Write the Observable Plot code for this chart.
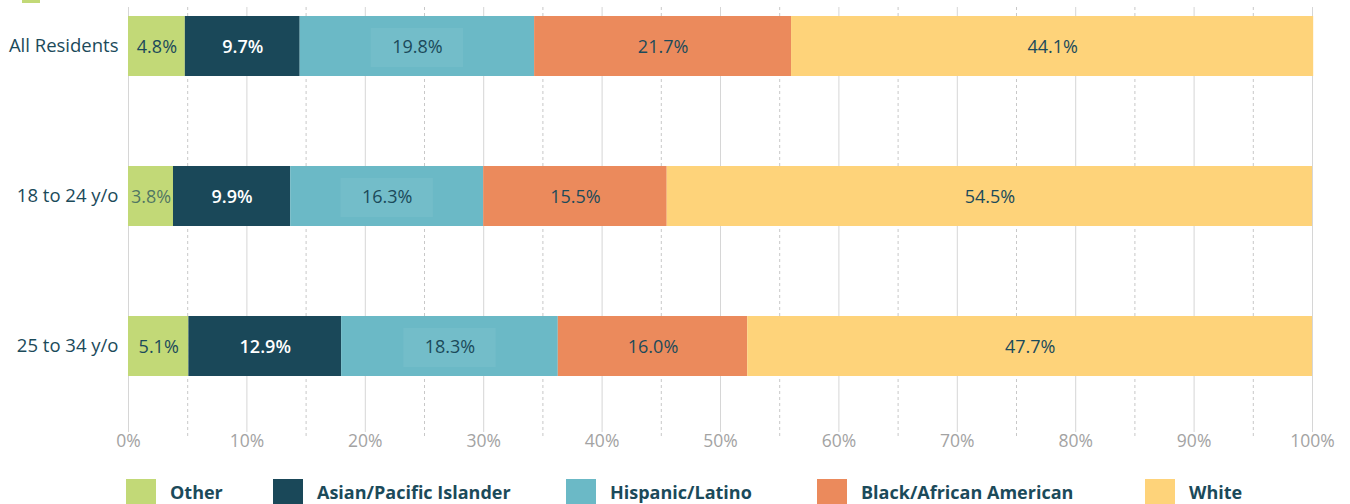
<!DOCTYPE html>
<html>
<head>
<meta charset="utf-8">
<script src="https://cdn.jsdelivr.net/npm/d3@7"></script>
<script src="https://cdn.jsdelivr.net/npm/@observablehq/plot@0.6"></script>
<style>
  html, body { margin: 0; padding: 0; background: #fff; }
  body { width: 1350px; height: 504px; overflow: hidden; position: relative; font-family: "Open Sans", sans-serif; }
  #chart svg { display: block; }
  #legend { position: relative; height: 44px; }
  .item { position: absolute; top: 19px; display: flex; align-items: center; }
  .sw { width: 30px; height: 30px; margin-right: 14px; }
  .lab { font-size: 18px; font-weight: 700; color: #1b4a5a; line-height: 30px; position: relative; top: -2px; }
  #topbit { position: absolute; left: 22px; top: 0; width: 18px; height: 3px; background: #c2d977; }
</style>
</head>
<body>
<div id="topbit"></div>
<div id="chart"></div>
<div id="legend"></div>
<script>
const groups = ["All Residents", "18 to 24 y/o", "25 to 34 y/o"];
const races = ["Other", "Asian/Pacific Islander", "Hispanic/Latino", "Black/African American", "White"];
const colors = ["#c2d977", "#1a4859", "#6bb9c6", "#eb8a5c", "#fed37a"];
const other    = [4.8, 3.8, 5.1];
const asian    = [9.7, 9.9, 12.9];
const hispanic = [19.8, 16.3, 18.3];
const black    = [21.7, 15.5, 16.0];
const white    = [44.1, 54.5, 47.7];
const xTicks = [0, 10, 20, 30, 40, 50, 60, 70, 80, 90, 100];
const xMinor = [5, 15, 25, 35, 45, 55, 65, 75, 85, 95];

const series = [other, asian, hispanic, black, white];
const data = [];
groups.forEach((g, gi) => {
  let cum = 0;
  races.forEach((r, ri) => {
    const v = series[ri][gi];
    data.push({group: g, race: r, value: v, mid: cum + v / 2});
    cum += v;
  });
});

const isAsian = d => d.race === "Asian/Pacific Islander";
const fmt = d => d.value.toFixed(1) + "%";

const chart = Plot.plot({
  width: 1350,
  height: 460,
  marginLeft: 128,
  marginRight: 38,
  marginTop: 7,
  marginBottom: 28,
  style: {fontFamily: "'Open Sans', sans-serif", background: "#fff"},
  x: {domain: [0, 100], axis: null},
  y: {domain: groups, range: [15, 377], paddingInner: 0.6, paddingOuter: 0, axis: null},
  color: {domain: races, range: colors},
  marks: [
    Plot.gridX(xTicks, {stroke: "#d6d6d6", strokeOpacity: 1}),
    Plot.gridX(xMinor, {stroke: "#c8c8c8", strokeOpacity: 1, strokeDasharray: "3,3", insetBottom: -6}),
    Plot.barX(data, Plot.stackX({x: "value", y: "group", fill: "race"})),
    Plot.barX(data.filter(d => d.race === "Hispanic/Latino"), {
      x1: d => d.mid - 3.9, x2: d => d.mid + 3.9, y: "group",
      fill: "#ffffff", fillOpacity: 0.06, insetTop: 12, insetBottom: 9
    }),
    Plot.text(data.filter(d => !isAsian(d)), {
      x: "mid", y: "group", dy: 1,
      text: fmt,
      fill: "#1b4a5a",
      fillOpacity: d => d.value < 4 ? 0.7 : 1,
      fontSize: 18
    }),
    Plot.text(data.filter(isAsian), {
      x: "mid", y: "group", dy: 1,
      text: fmt,
      fill: "#ffffff",
      fontWeight: 600,
      fontSize: 18
    }),
    Plot.axisX(xTicks, {
      tickSize: 0, tickPadding: 2, fontSize: 17.5, color: "#a3a3a3",
      tickFormat: d => d + "%"
    }),
    Plot.axisY({tickSize: 0, tickPadding: 10, fontSize: 18.5, color: "#1b4a5a", label: null})
  ]
});
document.getElementById("chart").append(chart);

const legendLefts = [126, 273, 566, 817, 1145];
const legend = document.getElementById("legend");
races.forEach((r, i) => {
  const it = document.createElement("div");
  it.className = "item";
  it.style.left = legendLefts[i] + "px";
  it.innerHTML = `<div class="sw" style="background:${colors[i]}"></div><div class="lab">${r}</div>`;
  legend.append(it);
});
</script>
</body>
</html>
